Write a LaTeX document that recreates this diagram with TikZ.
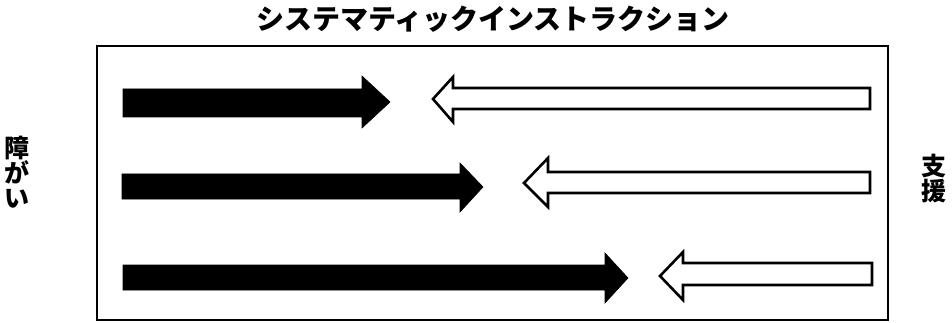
\documentclass[tikz,border=0pt]{standalone}
\usepackage{fontspec}
\newfontfamily\jp{Noto Sans CJK JP}
\tikzset{
  frame/.style={draw=black, line width=2.5pt},
  darkarrow/.style={fill=black, draw=black, line width=0.6pt, line join=miter},
  whitearrow/.style={fill=white, draw=black, line width=2.6pt, line join=miter},
  titletext/.style={font=\jp\bfseries\fontsize{28}{30}\selectfont, inner sep=0pt},
  sidetext/.style={font=\jp\bfseries\fontsize{25}{25}\selectfont, align=center, inner sep=0pt}
}
\begin{document}
\begin{tikzpicture}[x=1pt,y=-1pt]
\useasboundingbox (0,0) rectangle (952,323);
\node[titletext] (title) at (493,19) {システマティックインストラクション};
\node[sidetext] (left) at (17,172) {障\\が\\い};
\node[sidetext] (right) at (934,179) {支\\援};
\draw[frame] (97,46) rectangle (888,320);
% row 1
\draw[darkarrow] (123,89) -- (362,89) -- (362,76) -- (390,102) -- (362,128) -- (362,117) -- (123,117) -- cycle;
\draw[whitearrow] (870,88) -- (453,88) -- (453,77) -- (433,99) -- (453,122) -- (453,109) -- (870,109) -- cycle;
% row 2
\draw[darkarrow] (122,174) -- (460,174) -- (460,163) -- (483,187) -- (460,212) -- (460,199) -- (122,199) -- cycle;
\draw[whitearrow] (870,172) -- (548,172) -- (548,158) -- (524,183) -- (548,207) -- (548,193) -- (870,193) -- cycle;
% row 3
\draw[darkarrow] (123,265) -- (605,265) -- (605,253) -- (628,278) -- (605,303) -- (605,290) -- (123,290) -- cycle;
\draw[whitearrow] (872,263) -- (683,263) -- (683,252) -- (660,276) -- (683,300) -- (683,285) -- (872,285) -- cycle;
\end{tikzpicture}
\end{document}
